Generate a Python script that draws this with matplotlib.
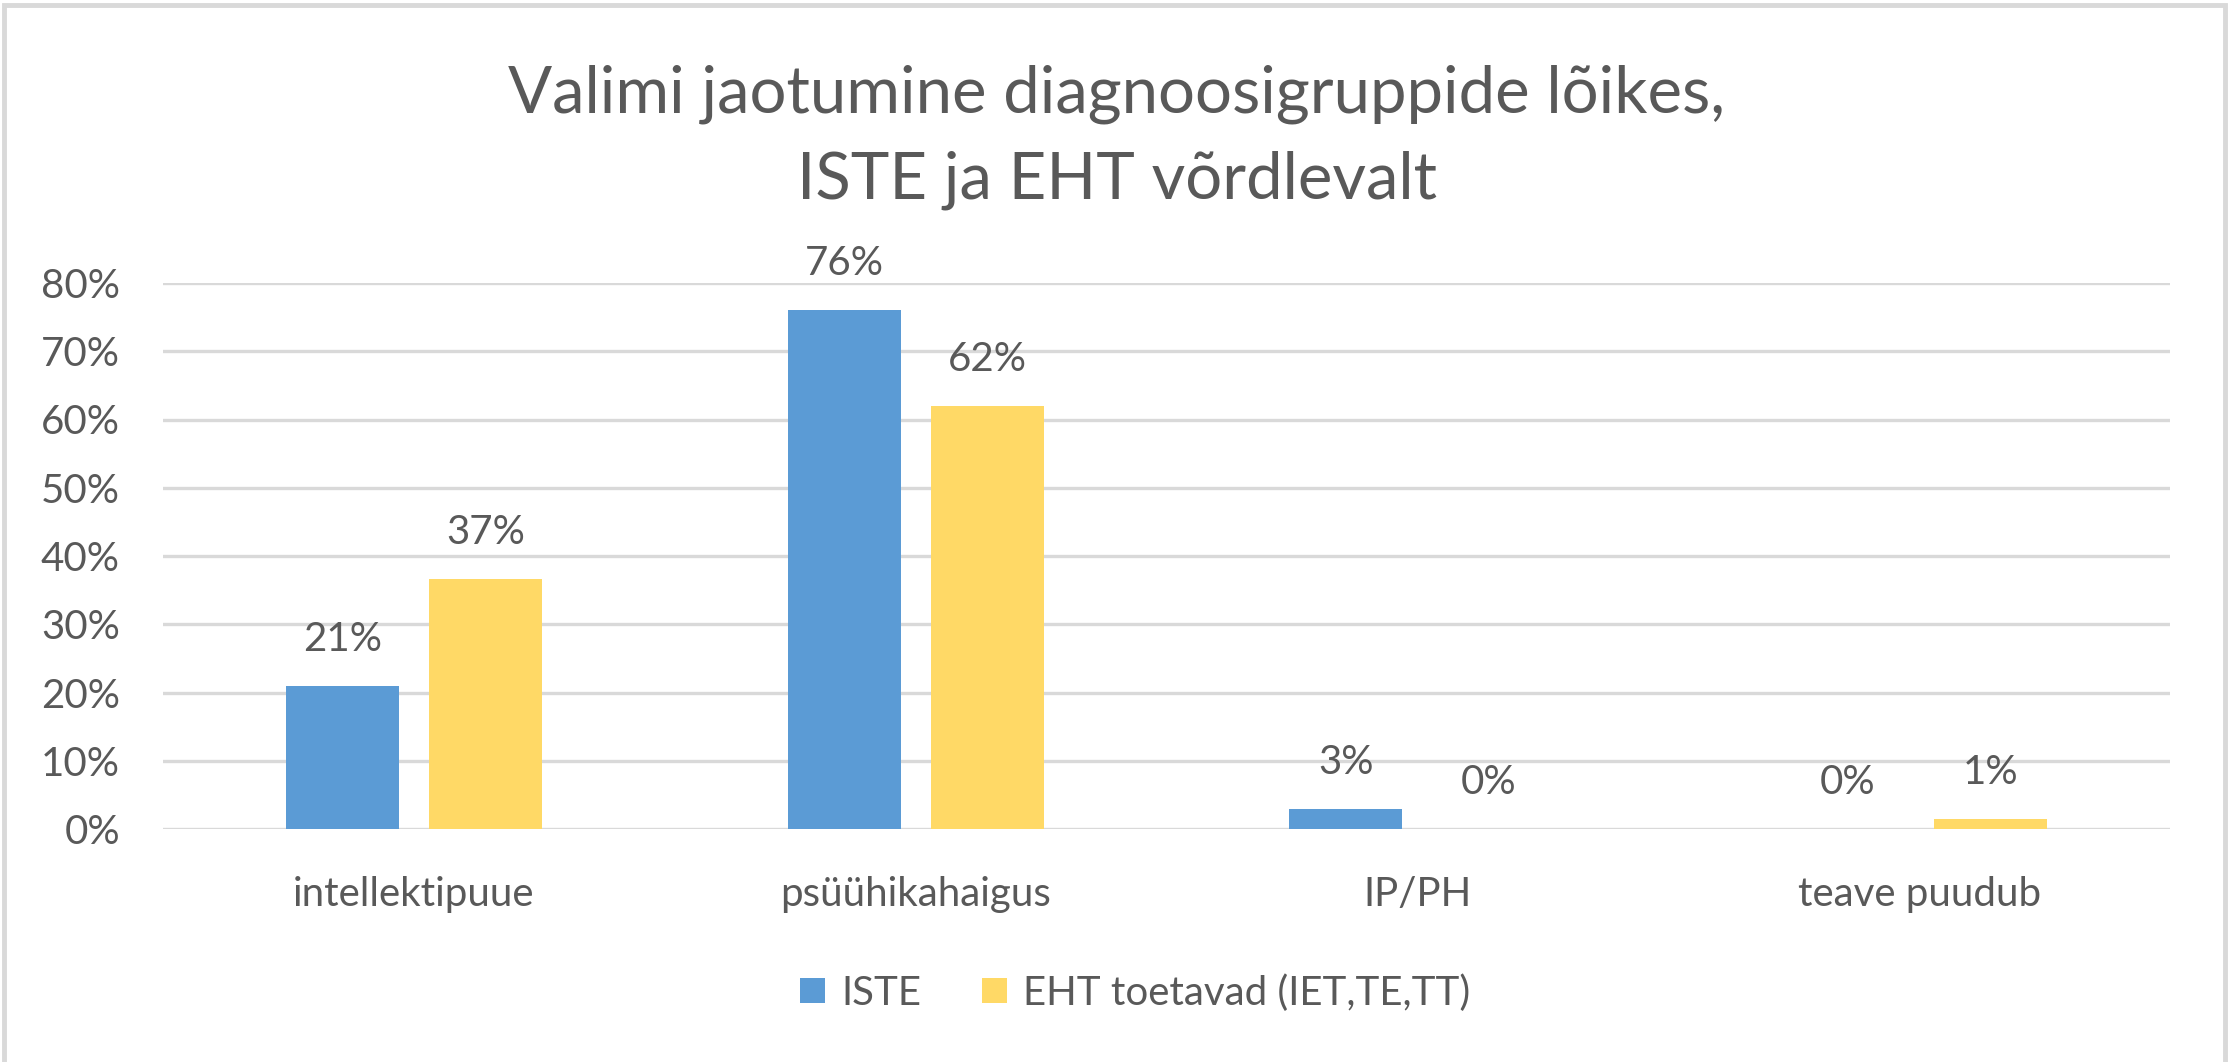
import matplotlib.pyplot as plt
import matplotlib.patches as mpatches
import numpy as np

plt.rcParams['font.family'] = ['Lato', 'DejaVu Sans']

categories = ['intellektipuue', 'psüühikahaigus', 'IP/PH', 'teave puudub']
iste = [0.21, 0.76, 0.029, 0.0]
eht = [0.366, 0.62, 0.0, 0.014]
series_names = ['ISTE', 'EHT toetavad (IET,TE,TT)']
yticks = [0, 0.1, 0.2, 0.3, 0.4, 0.5, 0.6, 0.7, 0.8]
title_lines = ['Valimi jaotumine diagnoosigruppide lõikes,', 'ISTE ja EHT võrdlevalt']

blue = '#5B9BD5'
yellow = '#FFD966'
txt = '#595959'
grid = '#D9D9D9'

fig = plt.figure(figsize=(22.34, 10.62), dpi=100)
ax = fig.add_axes([163 / 2234, 1 - 829 / 1062, (2170 - 163) / 2234, (829 - 283) / 1062])

x = np.arange(len(categories))
w = 0.225
off = 0.1424
b1 = ax.bar(x - off, iste, w, color=blue, label=series_names[0], zorder=3)
b2 = ax.bar(x + off, eht, w, color=yellow, label=series_names[1], zorder=3)

for bars, vals in [(b1, iste), (b2, eht)]:
    for rect, v in zip(bars, vals):
        ax.annotate('{:.0%}'.format(v), (rect.get_x() + rect.get_width() / 2, v),
                    xytext=(0, 28), textcoords='offset pixels',
                    ha='center', va='bottom', fontsize=29, color=txt)

ax.set_xlim(-0.5, len(categories) - 0.5)
ax.set_ylim(0, 0.8)
ax.set_yticks(yticks)
ax.set_yticklabels(['{:.0%}'.format(t) for t in yticks])
ax.set_xticks(x)
ax.set_xticklabels(categories)
ax.tick_params(axis='y', length=0, pad=31, labelsize=29, labelcolor=txt)
ax.tick_params(axis='x', length=0, pad=34, labelsize=29, labelcolor=txt)
ax.grid(axis='y', color=grid, lw=2.4, zorder=0)
ax.set_axisbelow(True)
for s in ax.spines.values():
    s.set_visible(False)

# title in two lines
fig.text(0.5, 1 - 112 / 1062, title_lines[0], ha='center', va='baseline', fontsize=47, color=txt)
fig.text(0.5, 1 - 198 / 1062, title_lines[1], ha='center', va='baseline', fontsize=47, color=txt)

leg = fig.legend(loc='center', bbox_to_anchor=(1135 / 2234, 1 - 993 / 1062), ncol=2, frameon=False,
                 fontsize=29, labelcolor=txt, handlelength=0.62, handleheight=0.58,
                 handletextpad=0.4, columnspacing=1.5)

# outer frame
fig.patches.append(mpatches.Rectangle((4 / 2234, -0.05), (2225 - 4) / 2234, 1.05 - 5 / 1062,
                                      transform=fig.transFigure, fill=False,
                                      edgecolor=grid, lw=3.5))

fig.savefig('out.png', dpi=100)
